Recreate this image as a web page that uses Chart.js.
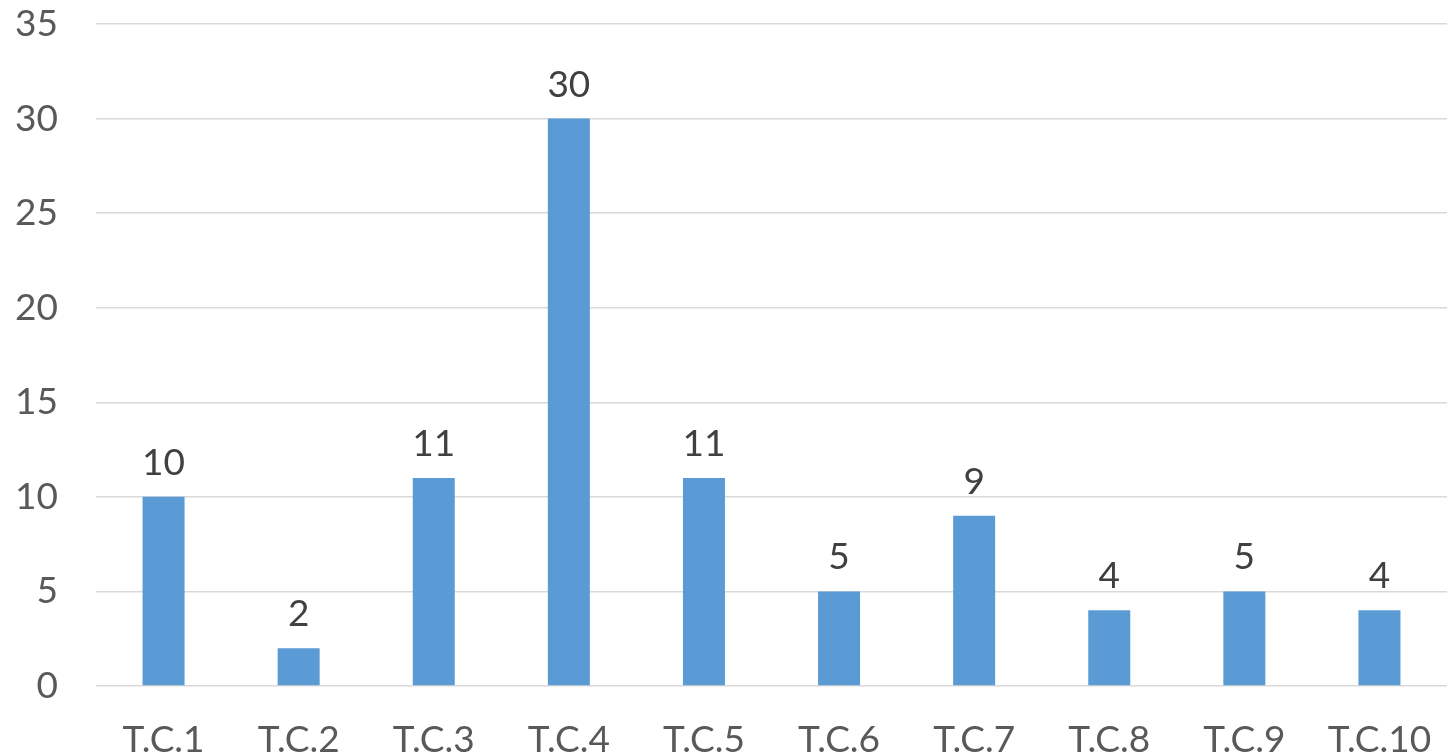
<!DOCTYPE html>
<html>
<head>
<meta charset="utf-8">
<script src="https://cdn.jsdelivr.net/npm/chart.js@4"></script>
<style>
html,body{margin:0;padding:0;background:#fff;overflow:hidden;}
#wrap{width:1455px;height:756px;position:relative;}
</style>
</head>
<body>
<div id="wrap"><canvas id="c" width="1455" height="756"></canvas></div>
<script>
const categories = ["T.C.1","T.C.2","T.C.3","T.C.4","T.C.5","T.C.6","T.C.7","T.C.8","T.C.9","T.C.10"];
const values = [10, 2, 11, 30, 11, 5, 9, 4, 5, 4];
const yTicks = [0, 5, 10, 15, 20, 25, 30, 35];

const FONT = "Lato, 'Open Sans', 'Liberation Sans', sans-serif";

const dataLabels = {
  id: 'dataLabels',
  afterDatasetsDraw(chart) {
    const ctx = chart.ctx;
    const meta = chart.getDatasetMeta(0);
    ctx.save();
    ctx.font = "37px " + FONT;
    ctx.fillStyle = "#404040";
    ctx.textAlign = "center";
    ctx.textBaseline = "alphabetic";
    meta.data.forEach((bar, i) => {
      ctx.fillText(String(values[i]), bar.x, bar.y - 22);
    });
    ctx.restore();
  }
};

new Chart(document.getElementById('c'), {
  type: 'bar',
  data: {
    labels: categories,
    datasets: [{
      data: values,
      backgroundColor: '#5B9BD5',
      borderWidth: 0,
      categoryPercentage: 1,
      barPercentage: 0.311
    }]
  },
  options: {
    responsive: false,
    animation: false,
    devicePixelRatio: 1,
    layout: { padding: { top: 24, right: 8, left: 0, bottom: 0 } },
    plugins: { legend: { display: false }, tooltip: { enabled: false } },
    scales: {
      x: {
        offset: true,
        grid: { display: false, drawTicks: false },
        border: { display: false },
        ticks: { color: '#595959', font: { family: FONT, size: 37 }, padding: 32, maxRotation: 0, autoSkip: false },
        afterFit(s) { s.height = 70; s.paddingLeft = 0; s.paddingRight = 0; }
      },
      y: {
        min: 0, max: 35,
        afterBuildTicks(s) { s.ticks = yTicks.map(v => ({ value: v })); },
        grid: { color: '#d9d9d9', lineWidth: 1.5, drawTicks: false },
        border: { display: false },
        ticks: { color: '#595959', font: { family: FONT, size: 37 }, padding: 38 },
        afterFit(s) { s.width = 96; s.paddingTop = 0; s.paddingBottom = 0; }
      }
    }
  },
  plugins: [dataLabels]
});
</script>
</body>
</html>
